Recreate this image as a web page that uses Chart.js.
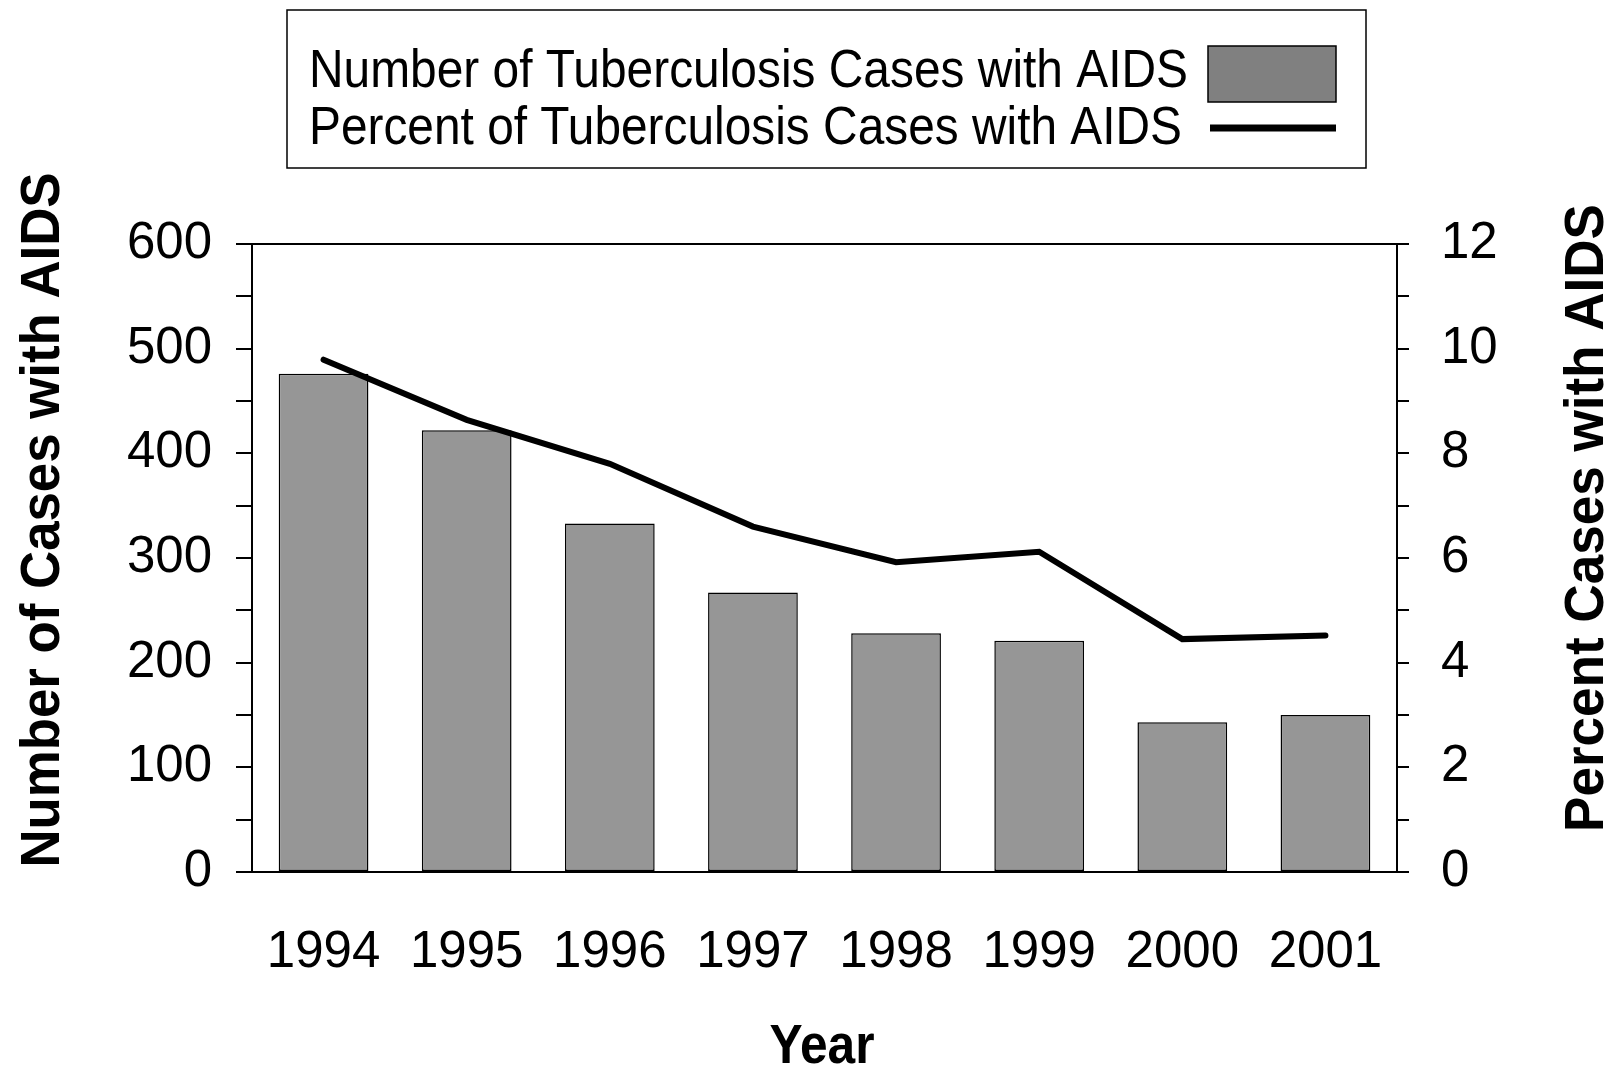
<!DOCTYPE html>
<html>
<head>
<meta charset="utf-8">
<script src="https://cdn.jsdelivr.net/npm/chart.js@4.4.1/dist/chart.umd.min.js"></script>
<style>
html,body{margin:0;padding:0;background:#fff;}
#wrap{width:1615px;height:1069px;position:relative;}
canvas{display:block;}
</style>
</head>
<body>
<div id="wrap"><canvas id="c" width="1615" height="1069"></canvas></div>
<script>
// ---- data ----
const years = ['1994', '1995', '1996', '1997', '1998', '1999', '2000', '2001'];
const tbCasesWithAIDS = [476, 422, 333, 267, 228, 221, 143, 150];
const pctCasesWithAIDS = [9.79, 8.64, 7.8, 6.6, 5.92, 6.12, 4.45, 4.52];
const leftAxisLabels = [0, 100, 200, 300, 400, 500, 600];
const rightAxisLabels = [0, 2, 4, 6, 8, 10, 12];
const seriesNames = ['Number of Tuberculosis Cases with AIDS', 'Percent of Tuberculosis Cases with AIDS'];
const axisTitles = {left: 'Number of Cases with AIDS', right: 'Percent Cases with AIDS', bottom: 'Year'};

const FONT = '"Liberation Sans", Arial, Helvetica, sans-serif';
Chart.defaults.font.family = FONT;
Chart.defaults.color = '#000';

function drawFitted(ctx, text, x, y, targetW, font, rot, align) {
  ctx.save();
  ctx.translate(x, y);
  ctx.rotate(rot);
  ctx.font = font;
  const w = ctx.measureText(text).width;
  ctx.scale(targetW / w, 1);
  ctx.textAlign = align;
  ctx.textBaseline = 'alphabetic';
  ctx.fillStyle = '#000';
  ctx.fillText(text, 0, 0);
  ctx.restore();
}

const decor = {
  id: 'decor',
  beforeDatasetsDraw(chart) {
    const {ctx, chartArea: a} = chart;
    ctx.save();
    ctx.strokeStyle = '#000';
    ctx.lineWidth = 2;
    ctx.beginPath();
    ctx.moveTo(a.left, a.top);
    ctx.lineTo(a.right, a.top);
    ctx.stroke();
    ctx.restore();
  },
  afterDraw(chart) {
    const {ctx} = chart;
    const ds = chart.data.datasets;
    // axis titles
    drawFitted(ctx, axisTitles.left, 59, 520, 695, 'bold 55px ' + FONT, -Math.PI / 2, 'center');
    drawFitted(ctx, axisTitles.right, 1603, 518, 628, 'bold 55px ' + FONT, -Math.PI / 2, 'center');
    drawFitted(ctx, axisTitles.bottom, 822, 1063, 105, 'bold 55px ' + FONT, 0, 'center');
    // legend box
    ctx.save();
    ctx.strokeStyle = '#000';
    ctx.lineWidth = 1.5;
    ctx.strokeRect(287, 10, 1079, 158);
    // bar swatch
    ctx.fillStyle = '#808080';
    ctx.fillRect(1208, 46, 128, 56);
    ctx.strokeRect(1208, 46, 128, 56);
    // line swatch
    ctx.beginPath();
    ctx.lineWidth = 7;
    ctx.moveTo(1210, 128);
    ctx.lineTo(1336, 128);
    ctx.stroke();
    ctx.restore();
    const barDs = ds.find(d => d.type === 'bar');
    const lineDs = ds.find(d => d.type === 'line');
    drawFitted(ctx, barDs.label, 309, 86.5, 879, '53px ' + FONT, 0, 'left');
    drawFitted(ctx, lineDs.label, 309, 144, 873, '53px ' + FONT, 0, 'left');
  }
};

new Chart(document.getElementById('c'), {
  data: {
    labels: years,
    datasets: [
      {
        type: 'line',
        label: seriesNames[1],
        data: pctCasesWithAIDS,
        yAxisID: 'yR',
        borderColor: '#000',
        borderWidth: 6,
        borderCapStyle: 'round',
        borderJoinStyle: 'miter',
        pointRadius: 0,
        tension: 0,
        fill: false,
        order: 0
      },
      {
        type: 'bar',
        label: seriesNames[0],
        data: tbCasesWithAIDS,
        yAxisID: 'yL',
        backgroundColor: '#969696',
        borderColor: '#000',
        borderWidth: 1.5,
        borderSkipped: false,
        barPercentage: 0.627,
        categoryPercentage: 1,
        order: 1
      }
    ]
  },
  options: {
    responsive: false,
    animation: false,
    events: [],
    layout: {padding: {top: 244, left: 0, right: 0, bottom: 0}},
    plugins: {legend: {display: false}, title: {display: false}, tooltip: {enabled: false}},
    scales: {
      x: {
        type: 'category',
        offset: true,
        grid: {display: true, drawOnChartArea: false, drawTicks: false},
        border: {display: true, color: '#000', width: 2},
        ticks: {font: {size: 51}, color: '#000', padding: 50, maxRotation: 0, autoSkip: false},
        afterFit(s) { s.height = 1069 - 872; }
      },
      yL: {
        type: 'linear',
        position: 'left',
        min: leftAxisLabels[0],
        max: leftAxisLabels[leftAxisLabels.length - 1],
        grid: {drawOnChartArea: false, drawTicks: true, tickLength: 16, color: '#000', lineWidth: 2},
        border: {display: true, color: '#000', width: 2},
        ticks: {
          stepSize: (leftAxisLabels[1] - leftAxisLabels[0]) / 2,
          autoSkip: false,
          font: {size: 51},
          color: '#000',
          padding: 24,
          callback: v => leftAxisLabels.includes(v) ? String(v) : ''
        },
        afterFit(s) { s.width = 252; }
      },
      yR: {
        type: 'linear',
        position: 'right',
        min: rightAxisLabels[0],
        max: rightAxisLabels[rightAxisLabels.length - 1],
        grid: {drawOnChartArea: false, drawTicks: true, tickLength: 12, color: '#000', lineWidth: 2},
        border: {display: true, color: '#000', width: 2},
        ticks: {
          stepSize: (rightAxisLabels[1] - rightAxisLabels[0]) / 2,
          autoSkip: false,
          font: {size: 51},
          color: '#000',
          padding: 32,
          callback: v => rightAxisLabels.includes(v) ? String(v) : ''
        },
        afterFit(s) { s.width = 1615 - 1397; }
      }
    }
  },
  plugins: [decor]
});
</script>
</body>
</html>
